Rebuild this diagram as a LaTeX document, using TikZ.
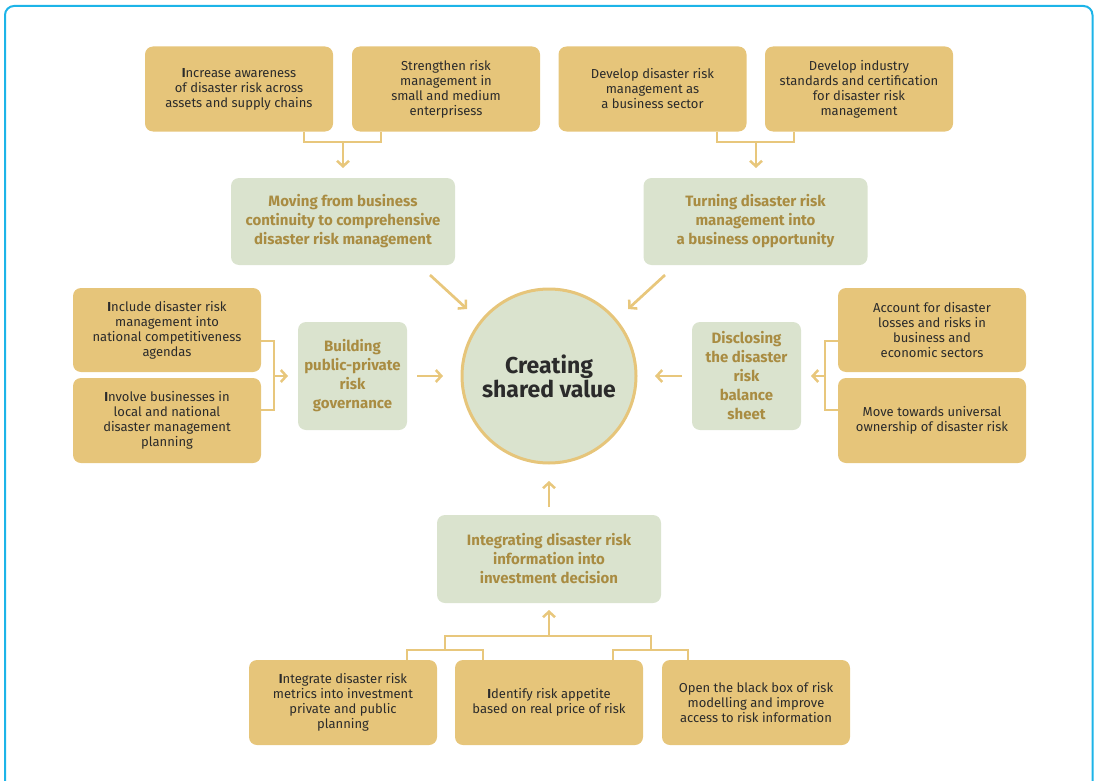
\documentclass[tikz,border=0pt]{standalone}
\usepackage{fontspec}
\setmainfont{Fira Sans}
\usetikzlibrary{arrows.meta}
\definecolor{frameblue}{HTML}{1DB4E8}
\definecolor{goldbox}{HTML}{E6C57A}
\definecolor{sage}{HTML}{DAE3CE}
\definecolor{headtxt}{HTML}{A98C42}
\definecolor{bodytxt}{HTML}{2B2B2B}
\definecolor{linkgold}{HTML}{E8C77C}
\begin{document}
\begin{tikzpicture}[x=1pt,y=-1pt,
  actionbox/.style={fill=goldbox, rounded corners=8pt, minimum width=188pt, minimum height=85pt,
    inner sep=0pt, align=center, text=bodytxt, font={\fontsize{13}{15}\selectfont}},
  themebox/.style={fill=sage, rounded corners=8pt, inner sep=0pt, align=center,
    text=headtxt, font={\bfseries\fontsize{15}{19}\selectfont}},
  link/.style={draw=linkgold, line width=2.7pt},
  linkarrow/.style={link, -{Straight Barb[length=5.5pt,width=12pt,line width=2.5pt]}},
]
\useasboundingbox (0,0) rectangle (1094,781);
% outer frame
\draw[frameblue, line width=2pt, rounded corners=9pt] (5,794) -- (5,6) -- (1092.5,6) -- (1092.5,794);

% central circle
\node[circle, fill=sage, draw=goldbox, line width=3pt, minimum size=174pt, inner sep=0pt,
  align=center, text=bodytxt, font={\bfseries\fontsize{23}{24}\selectfont}] (core) at (549,376)
  {Creating\\shared value};

% top-left group
\node[actionbox] (tl1) at (239,89) {\textbf{I}ncrease awareness\\of disaster risk across\\assets and supply chains};
\node[actionbox] (tl2) at (446,89) {Strengthen risk\\management in\\small and medium\\enterprisess};
\node[themebox, minimum width=224pt, minimum height=87pt] (tlh) at (343,221.5)
  {Moving from business\\continuity to comprehensive\\disaster risk management};

% top-right group
\node[actionbox] (tr1) at (652.5,89) {Develop disaster risk\\management as\\a business sector};
\node[actionbox] (tr2) at (859,89) {Develop industry\\standards and certification\\for disaster risk\\management};
\node[themebox, minimum width=224pt, minimum height=87pt] (trh) at (755.5,221.5)
  {Turning disaster risk\\management into\\a business opportunity};

% left group
\node[actionbox, minimum height=84pt] (l1) at (167,330) {\textbf{I}nclude disaster risk\\management into\\national competitiveness\\agendas};
\node[actionbox] (l2) at (167,420.5) {\textbf{I}nvolve businesses in\\local and national\\disaster management\\planning};
\node[themebox, minimum width=109pt, minimum height=108pt] (lh) at (352.5,376)
  {Building\\public-private\\risk\\governance};

% right group
\node[actionbox, minimum height=84pt] (r1) at (932,330) {Account for disaster\\losses and risks in\\business and\\economic sectors};
\node[actionbox] (r2) at (932,420.5) {Move towards universal\\ownership of disaster risk};
\node[themebox, minimum width=109pt, minimum height=108pt] (rh) at (746.5,376)
  {Disclosing\\the disaster\\risk\\balance\\sheet};

% bottom group
\node[themebox, minimum width=224pt, minimum height=88pt] (bh) at (549,559)
  {Integrating disaster risk\\information into\\investment decision};
\node[actionbox] (b1) at (343,702.5) {\textbf{I}ntegrate disaster risk\\metrics into investment\\private and public\\planning};
\node[actionbox] (b2) at (549,702.5) {\textbf{I}dentify risk appetite\\based on real price of risk};
\node[actionbox] (b3) at (756,702.5) {Open the black box of risk\\modelling and improve\\access to risk information};

% junction points and arrow ends short of their targets
\coordinate (tlj) at (343,142);
\coordinate (trj) at (756,142);
\coordinate (lj) at (274,376);
\coordinate (rj) at (825,376);
\coordinate (bj) at (549,636);
\coordinate (tlend) at (343,168);
\coordinate (trend) at (756,168);
\coordinate (lend) at (288,376);
\coordinate (rend) at (811,376);
\coordinate (bend) at (549,610);

% top-left bracket
\draw[link] (tl1.south -| 304,0) |- (tlj) -| (tl2.south -| 381,0);
\draw[linkarrow] (tlj) -- (tlend);
% top-right bracket
\draw[link] (tr1.south -| 717,0) |- (trj) -| (tr2.south -| 794,0);
\draw[linkarrow] (trj) -- (trend);
% left bracket
\draw[link] (l1.east |- 0,341) -| (lj) |- (l2.east |- 0,410);
\draw[linkarrow] (lj) -- (lend);
% right bracket
\draw[link] (r1.west |- 0,341) -| (rj) |- (r2.west |- 0,410);
\draw[linkarrow] (rj) -- (rend);
% bottom brackets
\draw[link] (b1.north -| 407,0) |- (445,650) -| (b2.north -| 483,0);
\draw[link] (b2.north -| 613,0) |- (651,650) -| (b3.north -| 688,0);
\draw[link] (445,650) |- (bj) -| (651,650);
\draw[linkarrow] (bj) -- (bend);

% theme arrows into the core
\draw[linkarrow] (430,275) -- (467,309);
\draw[linkarrow] (665,275) -- (628,309);
\draw[linkarrow] (417,376) -- (443,376);
\draw[linkarrow] (682,376) -- (655,376);
\draw[linkarrow] (549,507) -- (549,481);
\end{tikzpicture}
\end{document}
